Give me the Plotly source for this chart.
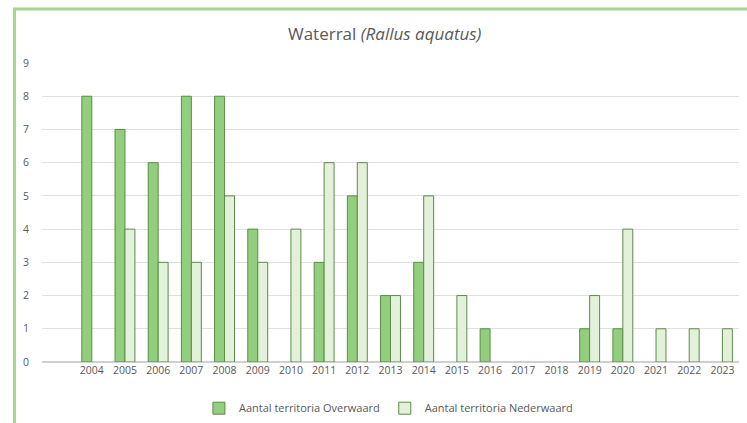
import plotly.graph_objects as go

# Waterral territories per year
years = [str(y) for y in range(2004, 2024)]
overwaard = [8, 7, 6, 8, 8, 4, 0, 3, 5, 2, 3, 0, 1, 0, 0, 1, 1, 0, 0, 0]
nederwaard = [0, 4, 3, 3, 5, 3, 4, 6, 6, 2, 5, 2, 0, 0, 0, 2, 4, 1, 1, 1]
y_ticks = list(range(0, 10))

# zero years get no bar at all (no outline stub on the baseline)
fig = go.Figure()
fig.add_trace(go.Bar(
    x=years, y=[v or None for v in overwaard], name="Aantal territoria Overwaard",
    marker=dict(color="#92CF7C", line=dict(color="#5E8A4C", width=1)),
))
fig.add_trace(go.Bar(
    x=years, y=[v or None for v in nederwaard], name="Aantal territoria Nederwaard",
    marker=dict(color="#E3F1DA", line=dict(color="#5E8A4C", width=1)),
))

# light green frame around the chart, running off the right and bottom edges
fig.add_shape(type="rect", xref="paper", yref="paper",
              x0=-0.0395, x1=1.2, y0=-0.5, y1=1.1806,
              line=dict(color="#A6D68E", width=3), layer="below")

fig.update_layout(
    width=747, height=423,
    margin=dict(l=42, r=8, t=63, b=61),
    paper_bgcolor="white", plot_bgcolor="white",
    font=dict(family="Open Sans, sans-serif", color="#595959", size=11),
    title=dict(text="Waterral <i>(Rallus aquatus)</i>", x=0.515, xanchor="center",
               y=0.92, yanchor="middle", font=dict(size=17, color="#595959")),
    barmode="group", bargap=0.4, bargroupgap=0,
    showlegend=True,
    legend=dict(orientation="h", xref="container", yref="container",
                x=0.52, xanchor="center", y=0.035, yanchor="middle",
                font=dict(size=11, color="#595959"), itemwidth=30, traceorder="normal"),
    xaxis=dict(type="category", range=[-1.5, 19.5], showgrid=False, showline=False,
               ticks="", tickfont=dict(size=10.5, color="#595959")),
    yaxis=dict(range=[0, 9], tickvals=y_ticks, showgrid=True, gridcolor="#E0E0E0",
               zeroline=True, zerolinecolor="#D0D0D0", ticks="", ticklabelstandoff=12,
               tickfont=dict(size=10.5, color="#595959")),
)

fig.write_html("out.html", config={"displayModeBar": False},
               post_script="document.body.style.margin='0';document.body.style.overflow='hidden';")
